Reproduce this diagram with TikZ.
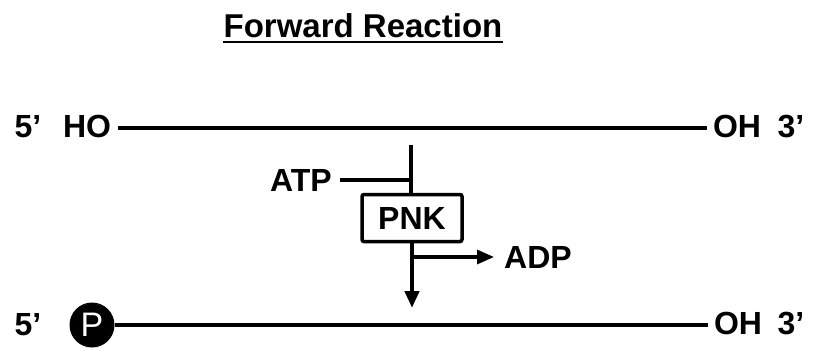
\documentclass[tikz,border=0pt]{standalone}
\usepackage{fontspec}
\setmainfont{Liberation Sans}
\usetikzlibrary{arrows.meta}
\begin{document}
\begin{tikzpicture}[x=1pt,y=-1pt,
  lab/.style={font=\fontsize{32}{32}\selectfont\bfseries, inner sep=0pt, anchor=base},
  strand/.style={line width=4.5pt},
  thin/.style={line width=3.2pt},
  tip/.style={-{Triangle[length=17pt,width=14pt]}},
  enzyme/.style={draw, line width=3.5pt, rounded corners=2pt, minimum width=100pt, minimum height=47pt, inner sep=0pt, font=\fontsize{32}{32}\selectfont\bfseries},
  phos/.style={circle, fill=black, minimum size=45pt, inner sep=0pt, text=white, font=\fontsize{34}{34}\selectfont}]
\useasboundingbox (0,0) rectangle (813,354);
% title
\node[font=\fontsize{33}{33}\selectfont\bfseries, inner sep=0pt, anchor=base] (title) at (363,37) {Forward Reaction};
\draw[line width=2pt] ([yshift=-5pt]title.base west) -- ([yshift=-5pt]title.base east);
% top strand
\node[lab] (t5) at (28,137) {5'};
\node[lab] (tHO) at (87,137) {HO};
\node[lab] (tOH) at (737,137) {OH};
\node[lab] (t3) at (791,137) {3'};
\draw[strand] ([xshift=7pt,yshift=-2pt]tHO.east) -- ([xshift=-6pt,yshift=-2pt]tOH.west);
% bottom strand
\node[lab] (b5) at (28,335) {5'};
\node[phos] (p) at (92,325) {P};
\node[lab] (bOH) at (738,334) {OH};
\node[lab] (b3) at (791,334) {3'};
\draw[strand] (p.east) -- ([xshift=-6pt]bOH.west|-p.east);
% reaction
\coordinate (vtop) at (411,145);
\node[enzyme] (pnk) at (412,218) {PNK};
\node[lab] (atp) at (301,191) {ATP};
\node[lab] (adp) at (538,268) {ADP};
\coordinate (atpl) at ([xshift=8pt]atp.east);
\coordinate (adpstart) at (412,257);
\coordinate (vend) at (412,308);
\draw[strand] (vtop) -- (vtop|-pnk.north);
\draw[thin] (atpl) -- (vtop|-atpl);
\draw[strand, tip] (pnk.south) -- (vend);
\draw[thin, tip] (adpstart) -- ([xshift=-10pt]adp.west|-adpstart);
\end{tikzpicture}
\end{document}
